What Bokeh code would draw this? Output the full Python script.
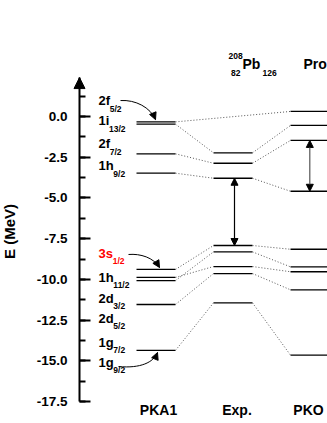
import math
from bokeh.plotting import figure
from bokeh.models import (Range1d, LinearAxis, SingleIntervalTicker, NumeralTickFormatter,
                          ColumnDataSource, Arrow, NormalHead, Grid)
from bokeh.core.properties import value
from bokeh.embed import file_html
from bokeh.resources import INLINE

# ---------------- data ----------------
states = ["2f5/2", "1i13/2", "2f7/2", "1h9/2", "3s1/2", "1h11/2", "2d3/2", "2d5/2", "1g7/2"]
pka1 = [-0.33, -0.47, -2.29, -3.48, -9.39, -9.88, -10.07, -11.54, -14.36]
expt = [None, -2.23, -2.87, -3.79, -7.92, -9.21, -8.31, -9.64, -11.44]
pko = [0.31, -0.55, -1.47, -4.59, -8.15, -9.53, -9.23, -10.64, -14.65]
columns = ["PKA1", "Exp.", "PKO"]
label_main = ["2f", "1i", "2f", "1h", "3s", "1h", "2d", "2d", "1g", "1g"]
label_sub = ["5/2", "13/2", "7/2", "9/2", "1/2", "11/2", "3/2", "5/2", "7/2", "9/2"]
label_color = ["black"] * 4 + ["#ff0000"] + ["black"] * 5
y_tick_interval = 2.5
axis_min, axis_max = -17.5, 2.39

# ---------------- layout ----------------
FONT = "Liberation Sans"
PX = 16.29                      # pixels per MeV
W, H = 327, 423
X0, Y0 = 79, 116                # pixel position of the axis / of E = 0
col_x = [76.5, 153.5, 230.5]
half = 19.5
label_y = [0.98, -0.25, -1.66, -3.01, -8.41, -9.88, -11.17, -12.40, -13.87, -15.10]
label_x = 19.0

p = figure(width=W, height=H, x_range=Range1d(-X0, W - X0),
           y_range=Range1d((Y0 - H) / PX, Y0 / PX),
           output_backend="svg", toolbar_location=None,
           x_axis_location=None, y_axis_location=None,
           min_border_left=0, min_border_right=0, min_border_top=0, min_border_bottom=0)
p.outline_line_color = None
p.background_fill_color = "white"
p.border_fill_color = "white"
p.center = [r for r in p.center if not isinstance(r, Grid)]

yax = LinearAxis(ticker=SingleIntervalTicker(interval=y_tick_interval, num_minor_ticks=2),
                 formatter=NumeralTickFormatter(format="0.0"),
                 fixed_location=0, bounds=(axis_min, axis_max))
yax.axis_line_width = 2
yax.major_tick_line_width = 2
yax.minor_tick_line_width = 2
yax.major_tick_in = 11
yax.major_tick_out = 0
yax.minor_tick_in = 6
yax.minor_tick_out = 0
yax.major_label_standoff = 12
yax.major_label_text_font = FONT
yax.major_label_text_font_style = "bold"
yax.major_label_text_font_size = "13.5px"
yax.major_label_text_color = "black"
p.add_layout(yax, "left")

# arrow head on top of the axis
p.add_layout(Arrow(end=NormalHead(size=11, fill_color="black", line_color="black"),
                   x_start=0, y_start=1.9, x_end=0, y_end=axis_max,
                   line_width=2, line_color="black"))

# energy levels
series = [pka1, expt, pko]
lx0, lx1, ly = [], [], []
for ci, vals in enumerate(series):
    for v in vals:
        if v is None:
            continue
        lx0.append(col_x[ci] - half)
        lx1.append(col_x[ci] + half)
        ly.append(v)
p.segment(x0=lx0, y0=ly, x1=lx1, y1=ly, line_color="black", line_width=1.3)

# dotted connectors
cx0, cy0, cx1, cy1 = [], [], [], []
for i in range(len(states)):
    chain = [(0, pka1[i]), (1, expt[i]), (2, pko[i])]
    chain = [c for c in chain if c[1] is not None]
    for (ca, va), (cb, vb) in zip(chain[:-1], chain[1:]):
        cx0.append(col_x[ca] + half)
        cy0.append(va)
        cx1.append(col_x[cb] - half)
        cy1.append(vb)
p.segment(x0=cx0, y0=cy0, x1=cx1, y1=cy1, line_color="#555555", line_width=1,
          line_dash="1 2")

# gap arrows
i_h9, i_s1, i_f7 = states.index("1h9/2"), states.index("3s1/2"), states.index("2f7/2")
for xx, ys, ye, col in [(155.0, expt[i_h9], expt[i_s1], "black"),
                        (230.3, pko[i_f7], pko[i_h9], "#555555")]:
    p.add_layout(Arrow(start=NormalHead(size=7, fill_color="black", line_color="black"),
                       end=NormalHead(size=7, fill_color="black", line_color="black"),
                       x_start=xx, y_start=ys, x_end=xx, y_end=ye,
                       line_width=1.2, line_color=col))

# level labels with subscripts
adv = {'1': .556, '2': .556, '3': .556, 'f': .333, 'i': .278, 'h': .611, 's': .556,
       'd': .611, 'g': .611}
main_size = 13
sub_off = [sum(adv[c] for c in m) * main_size - 0.3 for m in label_main]
src_m = ColumnDataSource(dict(x=[label_x] * len(label_main), y=label_y, t=label_main,
                              c=label_color))
src_s = ColumnDataSource(dict(x=[label_x + o for o in sub_off], y=label_y, t=label_sub,
                              c=label_color))
p.text(x="x", y="y", text="t", source=src_m, text_color="c",
       text_font=value(FONT), text_font_style="bold", text_font_size=f"{main_size}px",
       text_align="left", text_baseline="middle")
p.text(x="x", y="y", text="t", source=src_s, text_color="c", y_offset=8,
       text_font=value(FONT), text_font_style="bold", text_font_size="8.5px",
       text_align="left", text_baseline="middle")

# curved arrows from labels to levels
curves = [((41, 0.98), (56, 1.04), (71, 0.55), (76, -0.19)),
          ((49, -8.47), (61, -8.41), (74, -8.66), (80, -9.27)),
          ((39, -15.35), (61, -15.47), (74, -15.10), (78, -14.49))]
for (s, c0, c1, e) in curves:
    p.bezier(x0=[s[0]], y0=[s[1]], x1=[e[0]], y1=[e[1]],
             cx0=[c0[0]], cy0=[c0[1]], cx1=[c1[0]], cy1=[c1[1]],
             line_color="black", line_width=1)
    dx, dy = e[0] - c1[0], e[1] - c1[1]
    p.add_layout(Arrow(end=NormalHead(size=7, fill_color="black", line_color="black"),
                       x_start=e[0] - 0.3 * dx, y_start=e[1] - 0.3 * dy,
                       x_end=e[0], y_end=e[1], line_width=1, line_color="black"))

# column names
col_label_x = [79.0, 157.5, 229.0]
p.text(x=col_label_x, y=[-17.99] * 3, text=columns, text_font=value(FONT),
       text_font_style="bold", text_font_size="14px", text_align="center",
       text_baseline="middle", text_color="black")

# y-axis title
p.text(x=[-70], y=[-7.06], text=["E (MeV)"], angle=math.pi / 2, text_font=value(FONT),
       text_font_style="bold", text_font_size="15px", text_align="center",
       text_baseline="middle", text_color="black")

# title with nuclide notation (the reference shows only "Pro" at the right edge)
for txt, xx, yy, sz, al in [("208", 149, 3.74, "8.5px", "left"),
                            ("Pb", 163, 3.25, "14px", "left"),
                            ("82", 161, 2.68, "8.5px", "right"),
                            ("126", 183, 2.68, "8.5px", "left"),
                            ("Pro", 224, 3.25, "14px", "left")]:
    p.text(x=[xx], y=[yy], text=[txt], text_font=value(FONT), text_font_style="bold",
           text_font_size=sz, text_align=al, text_baseline="middle", text_color="black")

open("out.html", "w").write(file_html(p, INLINE))
